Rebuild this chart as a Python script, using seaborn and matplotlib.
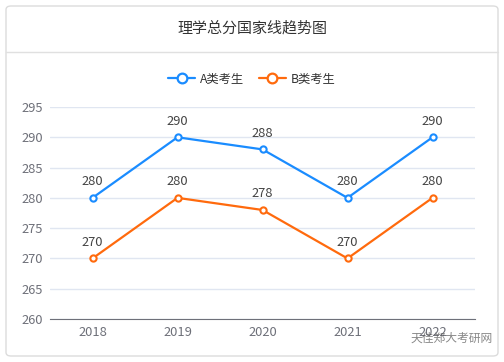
import numpy as np
import pandas as pd
import seaborn as sns
import matplotlib.pyplot as plt
from matplotlib.patches import FancyBboxPatch
from matplotlib.lines import Line2D

years = ['2018', '2019', '2020', '2021', '2022']
score_a = [280, 290, 288, 280, 290]
score_b = [270, 280, 278, 270, 280]
series_names = ['A类考生', 'B类考生']
colors = ['#1a8cff', '#ff6a0d']

sns.set_style('white')
plt.rcParams['font.family'] = ['Noto Sans CJK SC', 'DejaVu Sans']

df = pd.DataFrame({
    'pos': list(range(len(years))) * 2,
    'score': score_a + score_b,
    'type': [series_names[0]] * len(years) + [series_names[1]] * len(years),
})

fig = plt.figure(figsize=(5.04, 3.62), dpi=100)

# card background
card = FancyBboxPatch((6 / 504, 6 / 362), 492 / 504, 350 / 362,
                      boxstyle='round,pad=0,rounding_size=0.01',
                      transform=fig.transFigure, facecolor='white',
                      edgecolor='#dcdcdc', linewidth=1, zorder=-10)
fig.patches.append(card)
fig.add_artist(Line2D([6 / 504, 498 / 504], [1 - 52 / 362] * 2,
                      color='#e0e0e0', linewidth=1, transform=fig.transFigure, zorder=-5))
fig.text(0.5, 1 - 28 / 362, '理学总分国家线趋势图', ha='center', va='center',
         fontsize=10.8, color='#333333')

ax = fig.add_axes([50 / 504, 43 / 362, 425 / 504, 212 / 362])
ax.patch.set_alpha(0)
sns.lineplot(data=df, x='pos', y='score', hue='type', palette=colors,
             linewidth=1.6, marker='o', markersize=4.5, markerfacecolor='white',
             markeredgewidth=1.5, ax=ax, legend=False)
for line, c in zip(ax.lines, colors):
    line.set_markeredgecolor(c)

for vals in [score_a, score_b]:
    for i, v in enumerate(vals):
        ax.text(i, v + 1.6, str(v), ha='center', va='bottom', fontsize=9.3, color='#444444')

ax.set_xlim(-0.5, len(years) - 0.5)
ax.set_ylim(260, 295)
ax.set_yticks(np.arange(260, 296, 5))
ax.set_xticks(np.arange(-0.5, len(years)))
ax.set_xticklabels([])
ax.set_xticks(range(len(years)), minor=True)
ax.set_xticklabels(years, minor=True)
ax.tick_params(axis='x', which='major', length=5, color='#6e7079', direction='out')
ax.tick_params(axis='x', which='minor', length=0, labelsize=9.3, labelcolor='#6e7079', pad=5)
ax.tick_params(axis='y', length=0, labelsize=9.3, labelcolor='#6e7079', pad=5)
ax.grid(axis='y', color='#e0e6f1', linewidth=1)
ax.set_axisbelow(True)
for s in ['top', 'right', 'left']:
    ax.spines[s].set_visible(False)
ax.spines['bottom'].set_color('#6e7079')
ax.set_xlabel('')
ax.set_ylabel('')

handles = [Line2D([0], [0], color=c, linewidth=1.6, marker='o', markersize=7,
                  markerfacecolor='white', markeredgewidth=1.6, markeredgecolor=c)
           for c in colors]
fig.legend(handles, series_names, loc='center', bbox_to_anchor=(0.5, 1 - 79 / 362),
           ncol=2, frameon=False, fontsize=8.8, handlelength=2.2, columnspacing=1.2,
           handletextpad=0.4, labelcolor='#333333')

fig.text(493 / 504, 1 - 338 / 362, '天佳郑大考研网', ha='right', va='center',
         fontsize=8.5, color='#555555', alpha=0.7)

fig.savefig('out.png', dpi=100)
